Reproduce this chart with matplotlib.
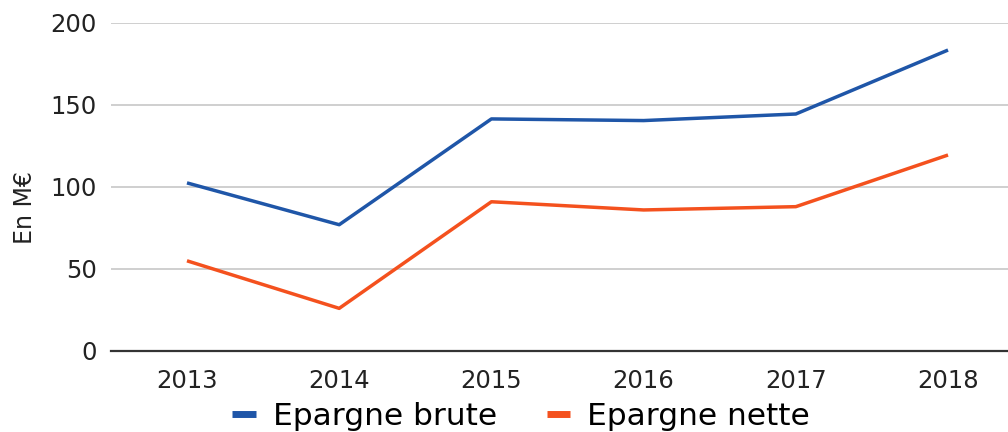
import matplotlib
matplotlib.use("Agg")
import matplotlib.pyplot as plt

# valeurs (M€)
years = ["2013", "2014", "2015", "2016", "2017", "2018"]
epargne_brute = [102.5, 77, 141.5, 140.5, 144.5, 183.5]
epargne_nette = [55, 26, 91, 86, 88, 119.5]

plt.rcParams['font.family'] = ['DejaVu Sans']

fig = plt.figure(figsize=(10.08, 4.32), dpi=100)
ax = fig.add_axes([0.110, 0.1875, 0.906, 0.7593])

x = range(len(years))
ax.plot(x, epargne_brute, color="#1f56a8", lw=2.5, label="Epargne brute", solid_capstyle="butt")
ax.plot(x, epargne_nette, color="#f4511e", lw=2.5, label="Epargne nette", solid_capstyle="butt")

ax.set_xlim(-0.5, len(years) - 0.5)
ax.set_ylim(0, 200)
ax.set_yticks([0, 50, 100, 150, 200])
ax.set_xticks(list(x))
ax.set_xticklabels(years)
ax.tick_params(axis="both", length=0, labelsize=17.5, colors="#222222")
ax.tick_params(axis="x", pad=13)
ax.tick_params(axis="y", pad=10)

ax.grid(axis="y", color="#cccccc", lw=1.3)
ax.set_axisbelow(True)
for s in ["top", "right", "left"]:
    ax.spines[s].set_visible(False)
ax.spines["bottom"].set_color("#333333")
ax.spines["bottom"].set_linewidth(1.6)
ax.spines["bottom"].set_zorder(3)

fig.text(0.025, 0.52, "En M€", rotation=90, fontsize=17, color="#222222", ha="center", va="center")

leg = fig.legend(loc="center", bbox_to_anchor=(0.517, 0.035), ncol=2, frameon=False,
                 fontsize=22.5, handlelength=0.75, handletextpad=0.55, columnspacing=1.6)
for h in leg.legend_handles:
    h.set_linewidth(5)

fig.savefig("out.png", dpi=100)
